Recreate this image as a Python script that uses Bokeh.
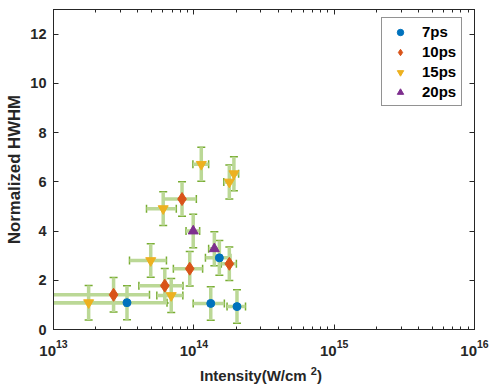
from bokeh.plotting import figure
from bokeh.layouts import column
from bokeh.models import (Range1d, FixedTicker, LogTicker, LinearAxis, LogAxis, Whisker,
                          TeeHead, ColumnDataSource, Legend, LegendItem, Div)
from bokeh.embed import file_html
from bokeh.resources import INLINE

# ---- data (intensity in W/cm^2, symmetric linear errors) ----
x7 = [3.34e13, 1.32e14, 1.52e14, 2.03e14]
y7 = [1.09, 1.06, 2.91, 0.93]
xe7 = [3.1e13, 3.3e13, 3.1e13, 3.05e13]
ye7 = [0.69, 0.68, 0.71, 0.68]

x10 = [2.68e13, 6.21e13, 8.24e13, 9.35e13, 1.79e14]
y10 = [1.41, 1.78, 5.30, 2.47, 2.67]
xe10 = [2.15e13, 2.15e13, 2.18e13, 2.2e13, 2.2e13]
ye10 = [0.70, 0.70, 0.70, 0.70, 0.68]

x15 = [1.78e13, 4.93e13, 6.05e13, 6.9e13, 1.13e14, 1.79e14, 1.93e14]
y15 = [1.09, 2.80, 4.91, 1.38, 6.71, 5.99, 6.33]
xe15 = [1.45e13, 1.45e13, 1.45e13, 1.45e13, 1.45e13, 1.55e13, 1.55e13]
ye15 = [0.70, 0.68, 0.69, 0.69, 0.69, 0.69, 0.69]

x20 = [9.9e13, 1.40e14]
y20 = [4.00, 3.28]
xe20 = [1.1e13, 1.25e13]
ye20 = [0.68, 0.69]

labels = ["7ps", "10ps", "15ps", "20ps"]
y_ticks = [0, 2, 4, 6, 8, 10, 12]

series = [
    (x7, y7, xe7, ye7, "circle", "#0072BD", 8),
    (x10, y10, xe10, ye10, "diamond", "#D95319", 13),
    (x15, y15, xe15, ye15, "inverted_triangle", "#EDB120", 10),
    (x20, y20, xe20, ye20, "triangle", "#7E2F8E", 10),
]

FONT = "Liberation Sans"
AX = "#262626"
GREEN = "#77AC30"
HALO = "#BBD896"

p = figure(width=491, height=367, x_axis_type="log",
           x_range=Range1d(1e13, 1e16), y_range=Range1d(0, 13),
           output_backend="svg", toolbar_location=None,
           min_border_left=53, min_border_right=17, min_border_top=9, min_border_bottom=38)
p.xgrid.visible = False
p.ygrid.visible = False
p.outline_line_color = AX
p.outline_line_width = 1

for ax in (p.xaxis[0], p.yaxis[0]):
    ax.major_tick_in = 5
    ax.major_tick_out = 0
    ax.minor_tick_in = 3
    ax.minor_tick_out = 0
    ax.axis_line_color = AX
    ax.major_tick_line_color = AX
    ax.minor_tick_line_color = AX
    ax.major_label_text_font = FONT
    ax.major_label_text_font_style = "bold"
    ax.major_label_text_color = "#262626"
    ax.axis_label_text_font = FONT
    ax.axis_label_text_font_style = "bold"
    ax.axis_label_text_color = "#262626"

p.xaxis[0].ticker = LogTicker(num_minor_ticks=10)
p.xaxis[0].major_label_text_font_size = "15px"
p.xaxis[0].major_label_standoff = 10
p.yaxis[0].ticker = FixedTicker(ticks=y_ticks)
p.yaxis[0].minor_tick_in = 0
p.yaxis[0].major_label_text_font_size = "14.5px"
p.yaxis[0].major_label_standoff = 7
p.yaxis[0].axis_label = "Normalized HWHM"
p.yaxis[0].axis_label_text_font_size = "16.8px"
p.yaxis[0].axis_label_standoff = 3

top = LogAxis(ticker=LogTicker(num_minor_ticks=10), major_tick_in=5, major_tick_out=0,
              minor_tick_in=3, minor_tick_out=0, axis_line_color=AX,
              major_tick_line_color=AX, minor_tick_line_color=AX,
              major_label_text_font_size="1px", major_label_text_alpha=0,
              major_label_standoff=0)
right = LinearAxis(ticker=FixedTicker(ticks=y_ticks), major_tick_in=5, major_tick_out=0,
                   minor_tick_in=0, minor_tick_out=0, axis_line_color=AX,
                   major_tick_line_color=AX, major_label_text_font_size="1px",
                   major_label_text_alpha=0, major_label_standoff=0)
p.add_layout(top, "above")
p.add_layout(right, "right")

sources = []
for (xs, ys, xe, ye, marker, color, size) in series:
    src = ColumnDataSource(dict(
        x=xs, y=ys,
        xl=[a - b for a, b in zip(xs, xe)], xu=[a + b for a, b in zip(xs, xe)],
        yl=[a - b for a, b in zip(ys, ye)], yu=[a + b for a, b in zip(ys, ye)]))
    sources.append(src)
    p.segment(x0="xl", y0="y", x1="xu", y1="y", source=src,
              line_color=HALO, line_width=3.5)
    p.segment(x0="x", y0="yl", x1="x", y1="yu", source=src,
              line_color=HALO, line_width=3.5)

items = []
for (xs, ys, xe, ye, marker, color, size), lab, src in zip(series, labels, sources):
    r = p.scatter("x", "y", source=src, marker=marker, size=size,
                  fill_color=color, line_color=color)
    items.append(LegendItem(label=lab, renderers=[r]))

for src in sources:
    p.add_layout(Whisker(base="y", lower="xl", upper="xu", dimension="width", source=src,
                         line_color=GREEN, line_width=1,
                         lower_head=TeeHead(size=8, line_color=GREEN, line_width=1.5),
                         upper_head=TeeHead(size=8, line_color=GREEN, line_width=1.5)))
    p.add_layout(Whisker(base="x", lower="yl", upper="yu", dimension="height", source=src,
                         line_color=GREEN, line_width=1,
                         lower_head=TeeHead(size=8, line_color=GREEN, line_width=1.5),
                         upper_head=TeeHead(size=8, line_color=GREEN, line_width=1.5)))

legend = Legend(items=items, location=(328, 223),
                label_text_font=FONT, label_text_font_style="bold",
                label_text_font_size="15px", label_text_color="#000000",
                glyph_width=26, glyph_height=16, label_height=16, label_width=30,
                label_standoff=9, spacing=3, padding=5, margin=0,
                border_line_color="#262626", border_line_width=1,
                background_fill_color="white", background_fill_alpha=1)
p.add_layout(legend, "center")

# x-axis title (HTML so the exponent is a real superscript)
xtitle = Div(
    text=('<div style="font-family:\'Liberation Sans\';font-size:15px;font-weight:bold;'
          'color:#262626;line-height:17px;white-space:nowrap;">'
          'Intensity(W/cm <sup style="font-size:11px;line-height:0;">2</sup>)</div>'),
    width=291, height=23, margin=(0, 0, 0, 200))

layout = column(p, xtitle, spacing=0)
open("out.html", "w").write(file_html(layout, INLINE))
